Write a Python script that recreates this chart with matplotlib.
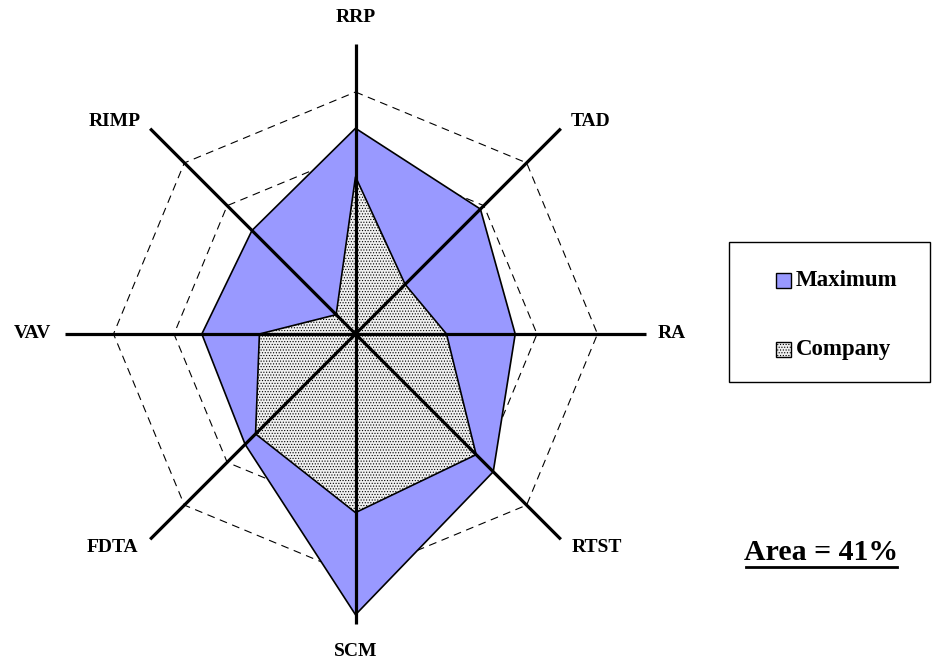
import numpy as np
import matplotlib
matplotlib.use("Agg")
import matplotlib.pyplot as plt
from matplotlib.patches import Polygon, Rectangle
from matplotlib.lines import Line2D

# Radar categories, clockwise from the top
categories = ["RRP", "TAD", "RA", "RTST", "SCM", "FDTA", "VAV", "RIMP"]
maximum = [85, 73, 66, 80.5, 116, 64.5, 63.5, 60.5]
company = [65, 29, 37.6, 70.5, 73.8, 58.4, 39.7, 11.3]
grid_levels = [75, 100]
axis_length = 120
area_text = "Area = 41%"

W, H, DPI = 933, 662, 100
fig = plt.figure(figsize=(W / DPI, H / DPI), dpi=DPI)
fig.patch.set_facecolor("white")

# Cartesian axes spanning the whole figure, 2.42 px per unit, centre at (355.5, 334) px
scale = 2.42
cx, cy = 355.5, 334.0
ax = fig.add_axes([0, 0, 1, 1])
ax.set_xlim(-cx / scale, (W - cx) / scale)
ax.set_ylim(-(H - cy) / scale, cy / scale)
ax.set_aspect("equal")
ax.axis("off")

n = len(categories)
theta = np.arange(n) * 2 * np.pi / n
ux, uy = np.sin(theta), np.cos(theta)

def vertices(vals):
    v = np.asarray(vals, dtype=float)
    return np.column_stack([v * ux, v * uy])

serif = ["Liberation Serif", "DejaVu Serif"]

# dashed octagonal gridlines
for lev in grid_levels:
    pts = vertices([lev] * n)
    ax.add_patch(Polygon(pts, closed=True, fill=False, edgecolor="black",
                         linewidth=0.8, linestyle=(0, (7, 5)), zorder=1))

# series polygons
ax.add_patch(Polygon(vertices(maximum), closed=True, facecolor="#9999ff",
                     edgecolor="black", linewidth=1.2, zorder=2))
plt.rcParams["hatch.color"] = "#d2d2d2"
plt.rcParams["hatch.linewidth"] = 0.5
ax.add_patch(Polygon(vertices(company), closed=True, facecolor="#f0f0f0",
                     edgecolor="black", linewidth=1.2, hatch="......", zorder=3))

# spokes
for i in range(n):
    ax.plot([0, axis_length * ux[i]], [0, axis_length * uy[i]], color="black",
            linewidth=2.3, solid_capstyle="butt", zorder=4)

# category labels
label_pos = {
    "RRP": (355.5, 18, "center"),
    "TAD": (591, 122, "center"),
    "RA": (672, 334, "center"),
    "RTST": (597, 548, "center"),
    "SCM": (356, 652, "center"),
    "FDTA": (112, 548, "center"),
    "VAV": (32, 334, "center"),
    "RIMP": (115, 122, "center"),
}
for name in categories:
    px, py, ha = label_pos[name]
    fig.text(px / W, 1 - py / H, name, ha=ha, va="center", fontsize=14,
             fontweight="bold", family=serif)

# legend box
lx0, ly0, lx1, ly1 = 729, 242, 930, 382
fig.add_artist(Rectangle((lx0 / W, 1 - ly1 / H), (lx1 - lx0) / W, (ly1 - ly0) / H,
                         transform=fig.transFigure, fill=False, edgecolor="black",
                         linewidth=1.0))
entries = [("Maximum", dict(facecolor="#9999ff"), 280),
           ("Company", dict(facecolor="#f0f0f0", hatch="......"), 349)]
for label, style, yy in entries:
    s = 15
    fig.add_artist(Rectangle((776 / W, 1 - (yy + s / 2) / H), s / W, s / H,
                             transform=fig.transFigure, edgecolor="black",
                             linewidth=1.0, **style))
    fig.text(796 / W, 1 - yy / H, label, ha="left", va="center", fontsize=16.5,
             fontweight="bold", family=serif)

# area annotation
fig.text(821 / W, 1 - 552 / H, area_text, ha="center", va="center", fontsize=21.5,
         fontweight="bold", family=serif)
fig.add_artist(Line2D([746 / W, 897 / W], [1 - 567 / H, 1 - 567 / H],
                      transform=fig.transFigure, color="black", linewidth=2.0))

fig.savefig("out.png", dpi=DPI, facecolor="white")
